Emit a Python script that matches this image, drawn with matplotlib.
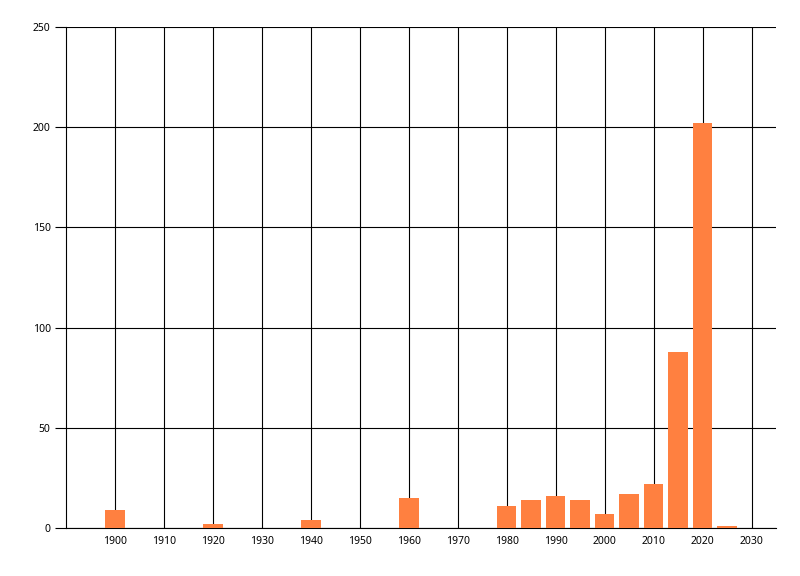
import matplotlib
matplotlib.use("Agg")
import matplotlib.pyplot as plt

plt.rcParams['font.family'] = ['Noto Sans', 'DejaVu Sans']

years = [1900, 1920, 1940, 1960, 1980, 1985, 1990, 1995, 2000, 2005, 2010, 2015, 2020, 2025]
counts = [9, 2, 4, 15, 11, 14, 16, 14, 7, 17, 22, 88, 202, 1]
x_ticks = list(range(1900, 2031, 10))
y_ticks = [0, 50, 100, 150, 200, 250]

fig = plt.figure(figsize=(8, 5.76), dpi=100)
ax = fig.add_axes([66/800, 48/576, 710/800, 501/576])

ax.set_axisbelow(True)
ax.grid(True, color='black', linewidth=0.8)
ax.bar(years, counts, width=4, color='#FF8040', zorder=3)

ax.set_xlim(1890, 2035)
ax.set_ylim(0, 250)
ax.set_xticks(x_ticks)
ax.set_xticklabels([str(v) for v in x_ticks])
ax.set_yticks(y_ticks)
ax.set_yticklabels([str(v) for v in y_ticks])

for s in ['top', 'right']:
    ax.spines[s].set_visible(False)
ax.spines['left'].set_linewidth(0.8)
ax.spines['bottom'].set_linewidth(0.8)
ax.tick_params(axis='x', length=0, pad=6, labelsize=7.5)
ax.tick_params(axis='y', length=8, width=0.8, pad=3, labelsize=7.5)

fig.savefig('out.png', dpi=100)
